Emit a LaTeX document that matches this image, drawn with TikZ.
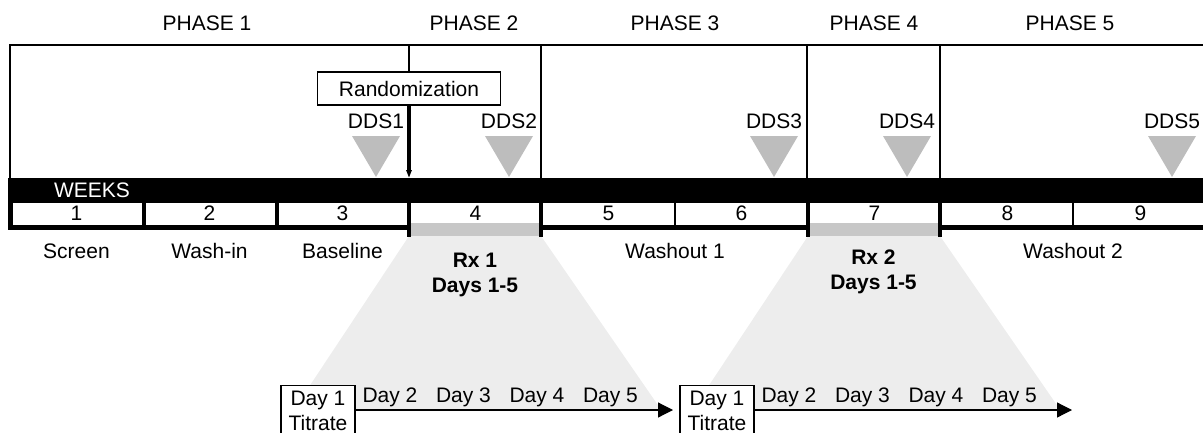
\documentclass[tikz,border=0pt]{standalone}
\usepackage{fontspec}
\setmainfont{Liberation Sans}
\usetikzlibrary{arrows.meta,positioning}

\definecolor{ddsgray}{gray}{0.74}
\definecolor{rxgray}{gray}{0.78}
\definecolor{fangray}{gray}{0.93}

\begin{document}
\fontsize{10.5}{12.5}\selectfont
\begin{tikzpicture}[x=0.5pt,y=-0.5pt,every node/.style={inner sep=0pt}]
  \tikzstyle{lbl}=[anchor=base]
  \tikzstyle{frame}=[line width=0.6pt]
  \tikzstyle{tick}=[line width=2pt]
  \tikzstyle{ddsmark}=[fill=ddsgray]
  \tikzstyle{daybox}=[draw,fill=white,line width=0.6pt,anchor=north,align=center,
      minimum width=37pt,inner ysep=2.5pt]
  \tikzstyle{dayarrow}=[line width=0.6pt,-{Triangle[length=7.5pt,width=7.5pt]}]
  \useasboundingbox (0,0) rectangle (1203,433);

  % Phases
  \foreach \x/\p in {207/1,474/2,675/3,874/4,1070/5}
    \node[lbl] (phase\p) at (\x,31) {PHASE \p};
  \draw[frame] (10,178) -- (10,45) -- (1203,45);
  \foreach \x in {541,807,940}
    \draw[frame] (\x,45) -- (\x,178);

  % Randomization
  \node[draw,frame,minimum width=91.5pt,minimum height=16.5pt] (rand) at (409,88.5) {Randomization};
  \coordinate (divtop) at (409,45);
  \coordinate (divtip) at (409,178);
  \draw[frame] (rand.north) -- (divtop);
  \draw[line width=1.6pt,-{Triangle[length=4pt,width=2.6pt]}] (rand.south) -- (divtip);

  % DDS markers
  \foreach \x [count=\k] in {376,509,774,907,1172} {
    \fill[ddsmark] (\x-24,136) -- (\x+24,136) -- (\x,177) -- cycle;
    \node[lbl] (dds\k) at (\x,128) {DDS\k};
  }

  % Weeks bar
  \fill (8,178) rectangle (1203,230);
  \fill[white] (13,203) rectangle (1203,225);
  \node[lbl,text=white] (weeks) at (92,197) {WEEKS};
  \foreach \w in {1,...,9}
    \node[lbl] (wk\w) at ({10+133*(\w-0.5)},220) {\w};
  \foreach \x in {144,277}
    \draw[tick] (\x,203) -- (\x,227);
  \foreach \x in {675,1073}
    \draw[frame] (\x,203) -- (\x,225);

  % Treatment periods
  \foreach \g/\dx in {1/0,2/399} {
    \fill[fangray] ({409+\dx},236) -- ({541+\dx},236) -- ({662+\dx},411) -- ({293+\dx},411) -- cycle;
    \fill[rxgray] ({409+\dx},223) rectangle ({541+\dx},236);
    \draw[tick] ({409+\dx},203) -- ({409+\dx},237);
    \draw[tick] ({541+\dx},203) -- ({541+\dx},237);
    \node[daybox] (titrate\g) at ({318+\dx},385) {Day 1\\Titrate};
    \coordinate (end\g) at ({673+\dx},410);
    \draw[dayarrow] (titrate\g.north east |- end\g) -- (end\g);
    \foreach \d in {2,...,5}
      \node[lbl] (day\g\d) at ({390+73.5*(\d-2)+\dx},402) {Day \d};
  }
  \node[lbl,font=\bfseries] (rx1) at (475,267) {Rx 1};
  \node[lbl,font=\bfseries] (rxdays1) at (475,292) {Days 1-5};
  \node[lbl,font=\bfseries] (rx2) at (873.5,264) {Rx 2};
  \node[lbl,font=\bfseries] (rxdays2) at (873.5,289) {Days 1-5};

  % Periods
  \foreach \x/\t [count=\i] in {76.5/Screen,209.5/Wash-in,342.5/Baseline,675/Washout 1,1073/Washout 2}
    \node[lbl] (per\i) at (\x,258) {\t};
\end{tikzpicture}
\end{document}
